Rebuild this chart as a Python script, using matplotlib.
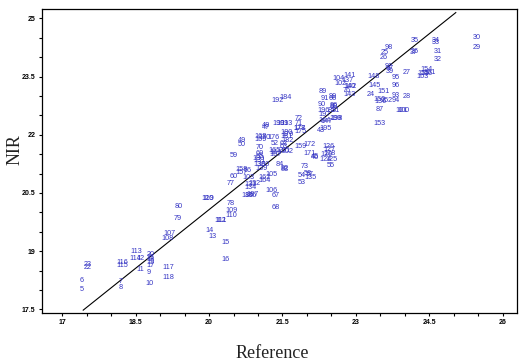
import matplotlib.pyplot as plt
from matplotlib.ticker import MultipleLocator

# sample numbers, reference value, NIR prediction
ids = ["5", "6", "23", "22", "7", "8", "116", "115", "113", "114", "12", "20", "21", "18", "19", "17",
       "11", "9", "10", "117", "118", "107", "108", "80", "79", "14", "13", "15", "16", "120", "119",
       "112", "111", "78", "109", "110", "77", "60", "59", "49", "50", "158", "157", "56", "103", "133",
       "134", "132", "185", "186", "187", "106", "67", "68", "105", "162", "164", "84", "83", "82",
       "130", "131", "138", "160", "139", "70", "69", "65", "168", "169", "170", "176", "48", "47",
       "190", "191", "193", "192", "184", "72", "71", "178", "177", "175", "180", "179", "181", "182",
       "52", "62", "63", "165", "166", "201", "202", "167", "159", "172", "171", "45", "46", "73",
       "54", "58", "57", "135", "53", "126", "127", "128", "129", "124", "125", "55", "195", "43",
       "144", "147", "198", "199", "196", "197", "90", "89", "91", "99", "66", "86", "88", "85", "81",
       "141", "104", "137", "102", "140", "142", "143", "76", "148", "145", "24", "151", "150", "136",
       "152", "87", "153", "93", "94", "28", "100", "101", "96", "95", "27", "92", "97", "39", "25",
       "26", "98", "35", "36", "37", "34", "33", "31", "32", "30", "29", "154", "155", "156", "161", "163"]
ref = [17.40, 17.40, 17.53, 17.53, 18.19, 18.19, 18.22, 18.22, 18.52, 18.49, 18.60, 18.81, 18.81, 18.80,
       18.81, 18.81, 18.59, 18.76, 18.79, 19.17, 19.17, 19.20, 19.16, 19.37, 19.37, 20.02, 20.06, 20.33,
       20.33, 19.97, 19.98, 20.22, 20.24, 20.45, 20.45, 20.45, 20.45, 20.50, 20.50, 20.67, 20.67, 20.67,
       20.67, 20.80, 20.80, 20.85, 20.84, 20.92, 20.78, 20.84, 20.89, 21.27, 21.37, 21.37, 21.28, 21.14,
       21.14, 21.44, 21.55, 21.55, 21.01, 21.03, 21.04, 21.12, 21.08, 21.04, 21.04, 21.03, 21.06, 21.06,
       21.14, 21.31, 21.16, 21.16, 21.42, 21.51, 21.59, 21.40, 21.56, 21.84, 21.84, 21.85, 21.85, 21.86,
       21.59, 21.60, 21.59, 21.60, 21.35, 21.52, 21.52, 21.33, 21.35, 21.55, 21.60, 21.35, 21.86, 22.06,
       22.05, 22.17, 22.17, 21.95, 21.89, 22.01, 22.06, 22.08, 21.89, 22.45, 22.45, 22.47, 22.39, 22.37,
       22.51, 22.49, 22.37, 22.28, 22.37, 22.39, 22.61, 22.58, 22.34, 22.35, 22.31, 22.33, 22.36, 22.53,
       22.53, 22.54, 22.54, 22.51, 22.58, 22.87, 22.64, 22.83, 22.68, 22.87, 22.90, 22.87, 22.81, 23.37,
       23.37, 23.31, 23.56, 23.48, 23.50, 23.62, 23.48, 23.48, 23.82, 23.82, 24.03, 23.97, 23.94, 23.82,
       23.82, 24.03, 23.67, 23.68, 23.69, 23.58, 23.56, 23.67, 24.21, 24.21, 24.19, 24.64, 24.64, 24.68,
       24.68, 25.46, 25.46, 24.44, 24.37, 24.45, 24.51, 24.37]
nir = [18.01, 18.24, 18.66, 18.59, 18.21, 18.07, 18.71, 18.64, 18.99, 18.82, 18.82, 18.92, 18.83, 18.79,
       18.71, 18.62, 18.53, 18.45, 18.16, 18.58, 18.32, 19.46, 19.33, 20.15, 19.84, 19.54, 19.37, 19.22,
       18.79, 20.37, 20.35, 19.80, 19.78, 20.23, 20.04, 19.91, 20.75, 20.92, 21.46, 21.86, 21.74, 21.11,
       21.02, 21.07, 20.90, 20.73, 20.64, 20.75, 20.44, 20.44, 20.46, 20.56, 20.43, 20.12, 20.97, 20.90,
       20.83, 21.24, 21.11, 21.13, 21.39, 21.35, 21.24, 21.24, 21.13, 21.68, 21.52, 21.45, 21.95, 21.88,
       21.93, 21.93, 22.23, 22.19, 22.29, 22.29, 22.29, 22.88, 22.97, 22.41, 22.29, 22.17, 22.15, 22.08,
       22.05, 22.02, 21.95, 21.86, 21.78, 21.78, 21.71, 21.59, 21.54, 21.59, 21.56, 21.48, 21.71, 21.75,
       21.51, 21.43, 21.42, 21.19, 20.96, 21.01, 20.98, 20.90, 20.76, 21.69, 21.63, 21.52, 21.48, 21.37,
       21.37, 21.21, 22.17, 22.10, 22.36, 22.33, 22.41, 22.43, 22.62, 22.52, 22.77, 23.11, 22.94, 22.98,
       22.93, 22.76, 22.72, 22.62, 22.62, 23.54, 23.44, 23.39, 23.31, 23.25, 23.24, 23.05, 23.15, 23.51,
       23.26, 23.05, 23.11, 22.91, 22.85, 22.88, 22.65, 22.28, 23.02, 22.89, 22.98, 22.62, 22.62, 23.26,
       23.47, 23.61, 23.77, 23.70, 23.64, 24.12, 23.99, 24.24, 24.42, 24.14, 24.12, 24.42, 24.37, 24.14,
       23.93, 24.50, 24.24, 23.69, 23.58, 23.57, 23.60, 23.51]

# fitted line end points
line_x = [17.43, 25.04]
line_y = [17.48, 25.15]

fig = plt.figure(figsize=(5.23, 3.64), dpi=100)
ax = fig.add_axes([0.080, 0.140, 0.9085, 0.835])

for s, x, y in zip(ids, ref, nir):
    ax.text(x, y, s, color='#3535c4', fontsize=5.2, ha='center', va='center',
            family='Liberation Sans')
ax.plot(line_x, line_y, color='black', lw=0.8)

ax.set_xlim(16.585, 26.29)
ax.set_ylim(17.405, 25.24)

ax.xaxis.set_major_locator(MultipleLocator(1.5))
ax.xaxis.set_minor_locator(MultipleLocator(0.5))
ax.yaxis.set_major_locator(MultipleLocator(1.5))
ax.yaxis.set_minor_locator(MultipleLocator(0.5))
ax.tick_params(which='both', direction='out', length=2.5, width=0.8, pad=2)
ax.set_xticks([17, 18.5, 20, 21.5, 23, 24.5, 26])
ax.set_xticklabels(['17', '18.5', '20', '21.5', '23', '24.5', '26'])
ax.set_yticks([17.5, 19, 20.5, 22, 23.5, 25])
ax.set_yticklabels(['17.5', '19', '20.5', '22', '23.5', '25'])
for lab in ax.get_xticklabels() + ax.get_yticklabels():
    lab.set_fontsize(5)
    lab.set_fontweight('bold')
    lab.set_family('Liberation Sans')
for sp in ax.spines.values():
    sp.set_linewidth(0.9)

fig.text(0.52, 0.03, 'Reference', fontsize=13, family='Liberation Serif',
         color='#222222', ha='center', va='center')
fig.text(0.029, 0.59, 'NIR', fontsize=13, family='Liberation Serif', color='#222222',
         rotation=90, ha='center', va='center')

fig.savefig('out.png', dpi=100)
